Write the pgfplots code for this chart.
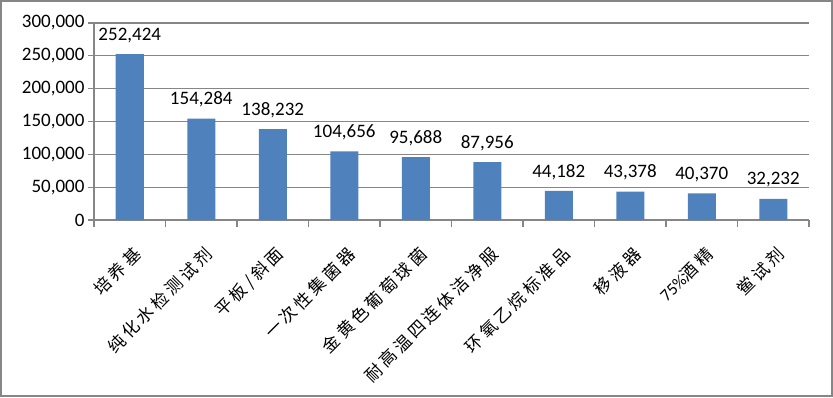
\documentclass[border=0pt]{standalone}
\usepackage{pgfplots}
\pgfplotsset{compat=1.18}
\usepackage{fontspec}
\setmainfont{Carlito}
\newfontfamily\cjk[LetterSpace=20]{Noto Sans CJK SC}
\definecolor{barblue}{HTML}{4F81BD}
\definecolor{gridgray}{HTML}{868686}
\begin{document}
\begin{tikzpicture}[x=1pt,y=1pt]
\useasboundingbox (0,0) rectangle (833,397);
\draw[line width=2pt, color=gridgray] (1,1) rectangle (832,396);
\begin{axis}[
  at={(94pt,177pt)}, anchor=south west,
  width=715pt, height=197pt, scale only axis,
  xmin=-0.5, xmax=9.5, ymin=0, ymax=300000,
  ybar, bar width=28pt,
  axis x line*=bottom, axis y line*=left,
  axis line style={gridgray, line width=1.2pt, -},
  ymajorgrids, major grid style={gridgray, line width=1.2pt},
  ytick={0,50000,100000,150000,200000,250000,300000},
  scaled y ticks=false,
  tick align=outside,
  major tick length=6pt,
  y tick style={gridgray, line width=1.2pt},
  xtick={0,...,9},
  major x tick style={draw=none},
  minor xtick={-0.5,0.5,...,9.5},
  minor tick length=7pt,
  minor x tick style={gridgray, line width=1.2pt},
  xticklabels={{\cjk 培养基},{\cjk 纯化水检测试剂},{\cjk 平板/斜面},{\cjk 一次性集菌器},{\cjk 金黄色葡萄球菌},{\cjk 耐高温四连体洁净服},{\cjk 环氧乙烷标准品},{\cjk 移液器},{75\%\cjk 酒精},{\cjk 鲎试剂}},
  xticklabel style={xshift=8pt, yshift=-25pt, rotate=45, anchor=east, font=\fontsize{17}{17}\selectfont, inner sep=0pt},
  yticklabel style={font=\fontsize{19}{19}\selectfont, /pgf/number format/.cd, fixed, 1000 sep={,}, assume math mode=true},
  point meta=y,
  nodes near coords,
  nodes near coords style={font=\fontsize{19}{19}\selectfont, yshift=8pt, /pgf/number format/.cd, fixed, precision=0, 1000 sep={,}, assume math mode=true},
]
\addplot[fill=barblue, draw=none] coordinates {
(0,252424) (1,154284) (2,138232) (3,104656) (4,95688)
(5,87956) (6,44182) (7,43378) (8,40370) (9,32232)};
\end{axis}
\end{tikzpicture}
\end{document}
